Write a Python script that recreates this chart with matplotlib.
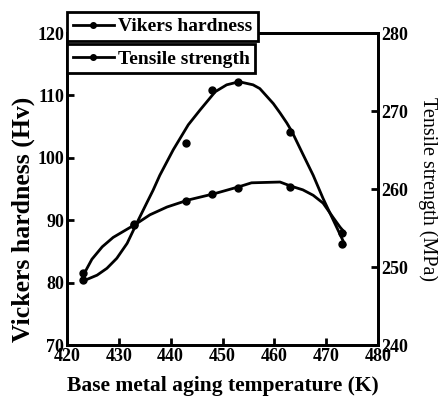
import matplotlib
matplotlib.use("Agg")
import matplotlib.pyplot as plt
from matplotlib.lines import Line2D

plt.rcParams['font.family'] = ['Liberation Serif', 'DejaVu Serif']

# measured points
temp = [423, 433, 443, 448, 453, 463, 473]
hardness = [80.4, 89.3, 102.4, 110.9, 112.1, 104.1, 86.2]
tensile = [249.3, 255.5, 258.5, 259.4, 260.1, 260.3, 254.4]

# fitted curves
hv_fit_t = [423.5, 425.8, 427.7, 429.6, 431.6, 433.5, 435.4, 436.6, 437.9, 440.5, 443.4,
            445.7, 448.6, 450.8, 453.2, 455.9, 457.2, 459.8, 461.1, 462.4, 463.4, 465.5,
            467.5, 469.4, 471.1, 472.3, 473.6]
hv_fit = [80.4, 81.2, 82.3, 83.9, 86.3, 89.6, 92.8, 94.8, 97.2, 101.3, 105.3,
          107.7, 110.6, 111.7, 112.2, 111.7, 111.1, 108.7, 107.2, 105.6, 104.2, 100.6,
          97.2, 93.5, 90.5, 88.4, 86.1]
ts_fit_t = [423.5, 424.8, 426.8, 428.9, 431.2, 433.5, 436.0, 439.3, 443.4, 448.4, 453.2,
            455.6, 461.1, 463.1, 465.5, 467.5, 469.4, 471.4, 472.7, 473.6]
ts_fit = [249.4, 251.0, 252.6, 253.8, 254.7, 255.6, 256.7, 257.7, 258.6, 259.4, 260.3,
          260.8, 260.9, 260.4, 259.9, 259.2, 258.2, 256.3, 255.1, 254.4]

fig = plt.figure(figsize=(4.38, 3.98), dpi=100)
ax = fig.add_axes([0.153, 0.133, 0.710, 0.784])
ax2 = ax.twinx()

ax.plot(hv_fit_t, hv_fit, color='black', lw=2)
ax.plot(temp, hardness, 'o', color='black', ms=5)
ax2.plot(ts_fit_t, ts_fit, color='black', lw=2)
ax2.plot(temp, tensile, 'o', color='black', ms=5)

ax.set_xlim(420, 480)
ax.set_ylim(70, 120)
ax2.set_ylim(240, 280)
ax.set_xticks(range(420, 481, 10))
ax.set_yticks(range(70, 121, 10))
ax2.set_yticks(range(240, 281, 10))

for a in (ax, ax2):
    for s in a.spines.values():
        s.set_linewidth(2)
    a.tick_params(direction='in', length=5, width=2, labelsize=13, pad=2)
    for lab in a.get_xticklabels() + a.get_yticklabels():
        lab.set_fontweight('bold')

ax.set_xlabel('Base metal aging temperature (K)', fontsize=15.5, fontweight='bold', labelpad=8)
ax.set_ylabel('Vickers hardness (Hv)', fontsize=18.5, fontweight='bold')
ax.yaxis.set_label_coords(-0.103, 0.404)
ax2.set_ylabel('Tensile strength (MPa)', fontsize=14.5, rotation=-90, labelpad=22)

h1 = Line2D([], [], color='black', lw=2, marker='o', ms=4)
h2 = Line2D([], [], color='black', lw=2, marker='o', ms=4)
for h, lbl, top in [(h1, 'Vikers hardness', 0.970), (h2, 'Tensile strength', 0.889)]:
    leg = fig.legend([h], [lbl], loc='upper left', bbox_to_anchor=(0.153, top),
                     borderaxespad=0, fancybox=False, framealpha=1, edgecolor='black',
                     handlelength=2.1, handletextpad=0.2, borderpad=0.3,
                     prop={'weight': 'bold', 'size': 14})
    leg.get_frame().set_linewidth(2)

fig.savefig('out.png', dpi=100)
